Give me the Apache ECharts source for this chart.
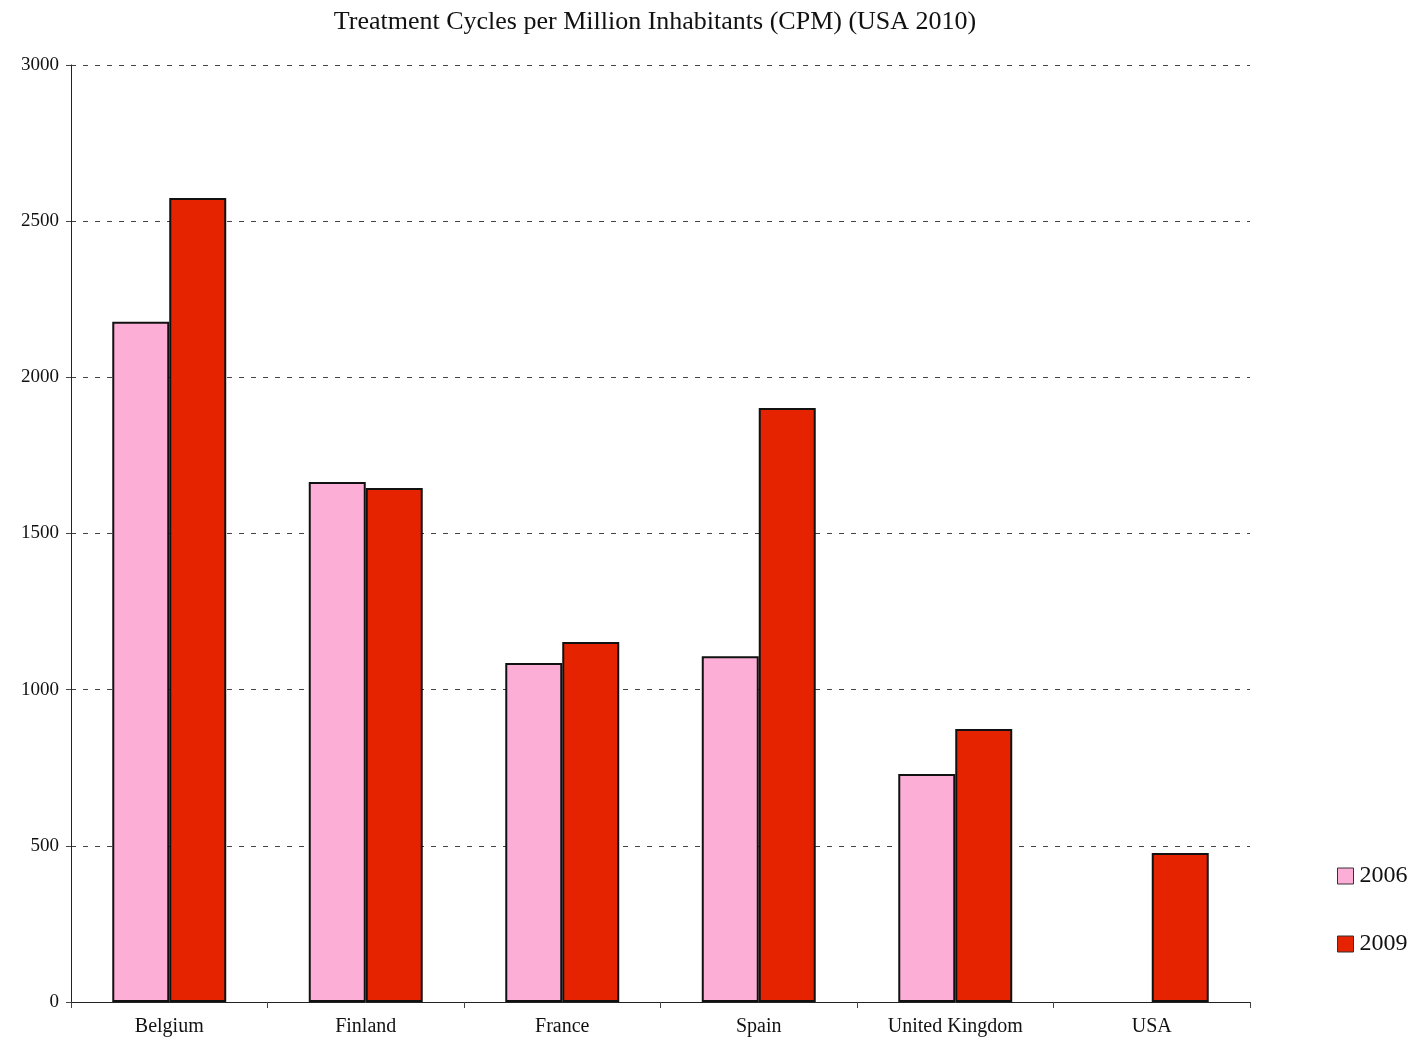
<!DOCTYPE html>
<html>
<head>
<meta charset="utf-8">
<script src="https://cdn.jsdelivr.net/npm/echarts@6/dist/echarts.min.js"></script>
<style>
  html, body { margin: 0; padding: 0; background: #fff; }
  #chart { width: 1420px; height: 1043px; }
</style>
</head>
<body>
<div id="chart"></div>
<script>
// Treatment cycles per million inhabitants, by country
const countries = ['Belgium', 'Finland', 'France', 'Spain', 'United Kingdom', 'USA'];
const cpm2006 = [2178, 1665, 1085, 1107, 730, null];
const cpm2009 = [2574, 1646, 1153, 1902, 874, 477];
const yTicks = { min: 0, max: 3000, interval: 500 };

const serif = '"Liberation Serif", "DejaVu Serif", serif';
const chart = echarts.init(document.getElementById('chart'), null, { renderer: 'canvas' });

chart.setOption({
  backgroundColor: '#ffffff',
  animation: false,
  title: {
    text: 'Treatment Cycles per Million Inhabitants (CPM) (USA 2010)',
    left: 650, top: 4, textAlign: 'center',
    textStyle: { fontFamily: serif, fontSize: 26, fontWeight: 'normal', color: '#111' }
  },
  legend: {
    orient: 'vertical',
    left: 1332, top: 859,
    itemWidth: 16, itemHeight: 16, itemGap: 44,
    icon: 'rect',
    textStyle: { fontFamily: serif, fontSize: 24, color: '#111', padding: [0, 0, 0, 1] },
    itemStyle: { borderColor: '#333', borderWidth: 1 }
  },
  grid: { left: 71, right: 170, top: 65, bottom: 41, containLabel: false },
  xAxis: {
    type: 'category',
    data: countries,
    axisLine: { lineStyle: { color: '#222', width: 1 } },
    axisTick: { show: true, length: 6, alignWithLabel: false, lineStyle: { color: '#444' } },
    axisLabel: { fontFamily: serif, fontSize: 20, color: '#111', margin: 15 }
  },
  yAxis: {
    type: 'value',
    min: yTicks.min, max: yTicks.max, interval: yTicks.interval,
    axisLine: { show: true, lineStyle: { color: '#222', width: 1 } },
    axisTick: { show: true, length: 5, lineStyle: { color: '#444' } },
    axisLabel: { fontFamily: serif, fontSize: 19, color: '#111', margin: 12, formatter: v => String(v) },
    splitLine: { show: true, lineStyle: { color: '#444', type: [5, 7], width: 1 } }
  },
  series: [
    {
      name: '2006', type: 'bar', data: cpm2006,
      barGap: '0%', barCategoryGap: '42%',
      itemStyle: { color: '#fcaed6', borderColor: '#111', borderWidth: 2 }
    },
    {
      name: '2009', type: 'bar', data: cpm2009,
      itemStyle: { color: '#e62300', borderColor: '#111', borderWidth: 2 }
    }
  ]
});
</script>
</body>
</html>
